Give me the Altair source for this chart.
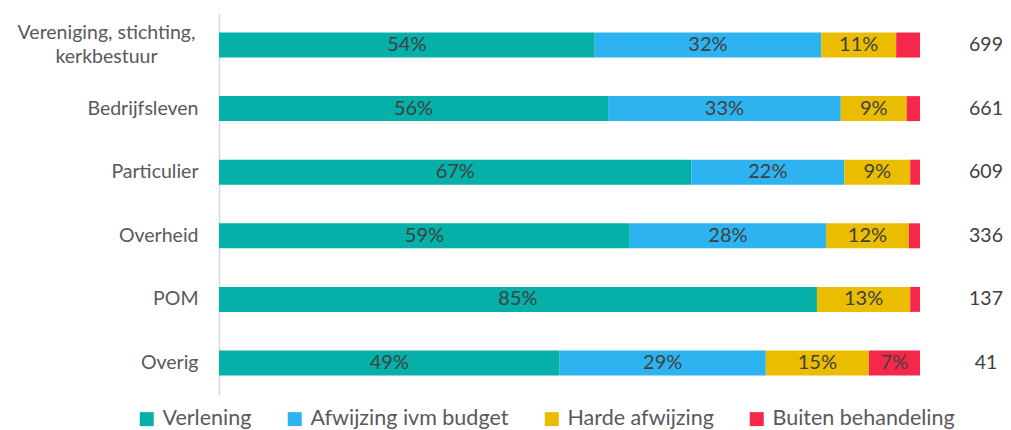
import altair as alt
import pandas as pd

categories = ["Vereniging, stichting, kerkbestuur", "Bedrijfsleven", "Particulier",
              "Overheid", "POM", "Overig"]
series = ["Verlening", "Afwijzing ivm budget", "Harde afwijzing", "Buiten behandeling"]
verlening = [53.6, 55.5, 67.4, 58.6, 85.3, 48.6]
budget = [32.3, 33.2, 21.8, 28.0, 0.0, 29.4]
harde = [10.7, 9.4, 9.4, 11.8, 13.3, 14.7]
buiten = [3.4, 1.9, 1.4, 1.6, 1.4, 7.3]
counts = [699, 661, 609, 336, 137, 41]
colors = ["#05B0A8", "#2DB4F0", "#EBBD00", "#F5284B"]

rows = []
for i, c in enumerate(categories):
    for j, (s, vals) in enumerate(zip(series, [verlening, budget, harde, buiten])):
        rows.append({"cat": c, "series": s, "order": j, "value": vals[i]})
df = pd.DataFrame(rows)
df_n = pd.DataFrame({"cat": categories, "n": counts})

FONT = "Lato"
MULTI = "Vereniging, stichting, kerkbestuur"
TEST = f"datum.value == '{MULTI}'"

yenc = alt.Y("cat:N", sort=categories, title=None,
             scale=alt.Scale(paddingInner=0.607, paddingOuter=0.307),
             axis=alt.Axis(domainColor="#D9D9D9", domainWidth=1.5, ticks=False,
                           labelFontSize=19.5, labelColor="#595959", labelFont=FONT,
                           labelLimit=300, labelLineHeight=24,
                           labelPadding={"condition": {"test": TEST, "value": 113}, "value": 21},
                           labelAlign={"condition": {"test": TEST, "value": "center"}, "value": "right"},
                           labelOffset={"condition": {"test": TEST, "value": -12}, "value": 0},
                           labelExpr=f"{TEST} ? ['Vereniging, stichting,', 'kerkbestuur'] : datum.label"))

base = alt.Chart(df).transform_stack(
    stack="value", groupby=["cat"], as_=["x0", "x1"], sort=[alt.SortField("order")]
)

bars = base.mark_bar().encode(
    y=yenc,
    x=alt.X("x0:Q", scale=alt.Scale(domain=[0, 100], nice=False), axis=None),
    x2="x1:Q",
    color=alt.Color("series:N", sort=series,
                    scale=alt.Scale(domain=series, range=colors),
                    legend=alt.Legend(title=None, orient="none", direction="horizontal",
                                      legendX=-83, legendY=395, symbolType="square",
                                      symbolSize=196, symbolStrokeWidth=0,
                                      labelFontSize=21.5, labelFont=FONT, labelColor="#595959",
                                      labelOffset=5, columnPadding=32, labelLimit=300)),
)

labels = base.transform_filter("datum.value >= 5").transform_calculate(
    mid="(datum.x0 + datum.x1) / 2",
    txt="format(datum.value, '.0f') + '%'",
).mark_text(fontSize=20, font=FONT, color="#404040").encode(
    y=alt.Y("cat:N", sort=categories),
    x=alt.X("mid:Q"),
    text="txt:N",
)

nums = alt.Chart(df_n).mark_text(fontSize=19.5, font=FONT, color="#404040").encode(
    y=alt.Y("cat:N", sort=categories),
    x=alt.value(767),
    text="n:Q",
)

chart = alt.layer(bars, labels, nums).properties(
    width=701, height=382,
    autosize=alt.AutoSizeParams(type="none"),
    padding={"left": 211, "top": 5, "right": 83, "bottom": 34},
).configure_view(stroke=None)

chart.save("out.html", embed_options={"renderer": "svg", "actions": False})
